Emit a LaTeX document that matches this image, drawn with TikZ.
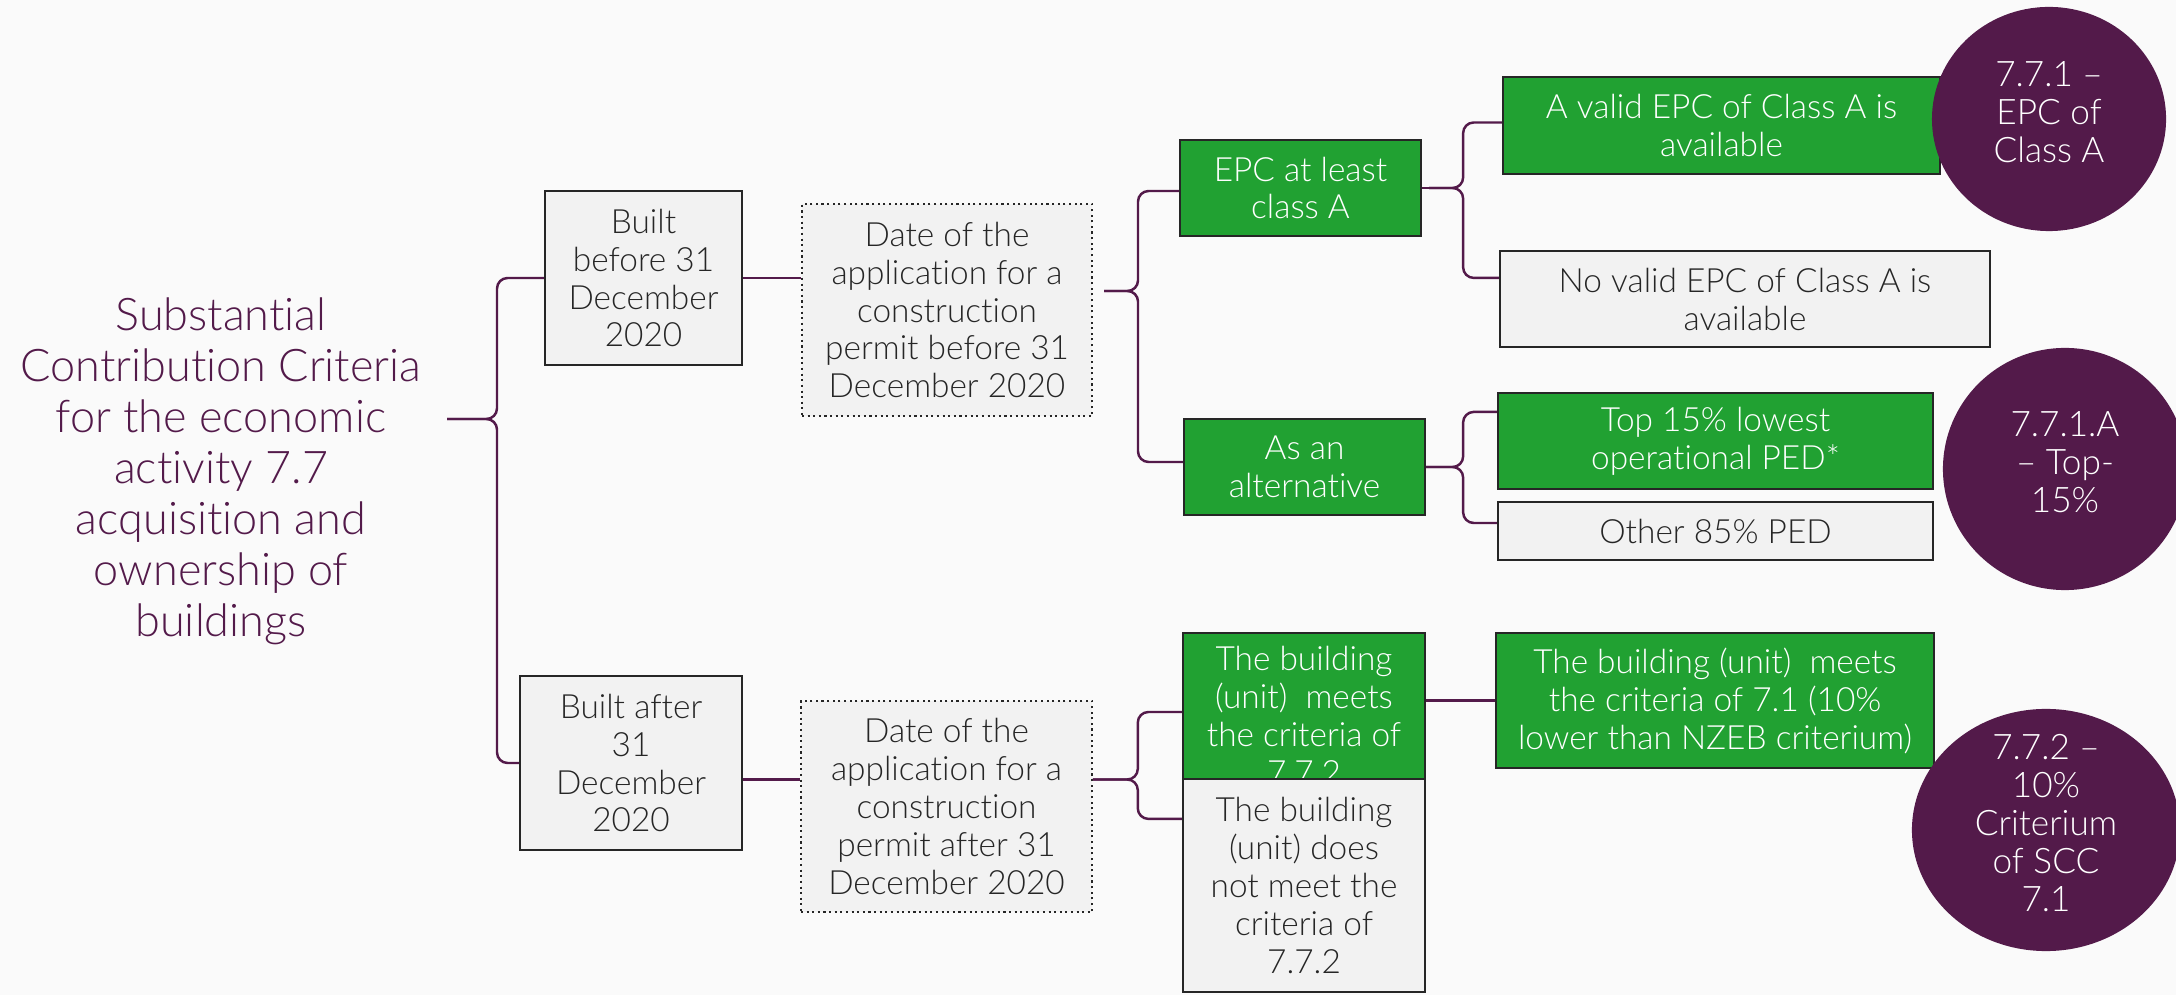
\documentclass[tikz,border=0pt]{standalone}
\usepackage{fontspec}
\setmainfont{Lato}
\newfontfamily\lightfont[Ligatures={TeX,NoCommon}]{Lato Light}
\usetikzlibrary{positioning,calc,shapes.geometric}

\definecolor{plum}{HTML}{531A4A}
\definecolor{okgreen}{HTML}{21A132}
\definecolor{boxfill}{HTML}{F2F2F2}
\definecolor{boxline}{HTML}{262626}
\definecolor{pagebg}{HTML}{FAFAFA}

\tikzset{
  greybox/.style={draw=boxline, fill=boxfill, text=boxline, line width=0.6pt,
    align=center, inner sep=0pt, font=\lightfont\fontsize{9.5}{10.8}\selectfont},
  greenbox/.style={greybox, fill=okgreen, text=white},
  datebox/.style={greybox, densely dotted, line width=0.4pt},
  badge/.style={ellipse, fill=plum, text=white, inner sep=0pt,
    font=\lightfont\fontsize{10}{10.8}\selectfont},
  heading/.style={text=plum, align=center, font=\lightfont\fontsize{12.8}{14.5}\selectfont},
  brace/.style={draw=plum, line width=0.7pt, rounded corners=3pt},
  link/.style={draw=plum, line width=0.6pt},
}
\newcommand{\stack}[2]{\raisebox{#1}[0pt][0pt]{\begin{tabular}{@{}c@{}}#2\end{tabular}}}

\begin{document}
\begin{tikzpicture}[x=0.01cm, y=-0.01cm]
\useasboundingbox (0,0) rectangle (2176,995);
\fill[pagebg] (0,0) rectangle (2176,995);

% activity 7.7
\node[heading] (scc) at (221,471) {Substantial\\Contribu\kern0pt tion Criteria\\for the economic\\activity 7.7\\acquisition and\\ownership of\\buildings};
\coordinate (fork0) at (447,419);

% built before 31 December 2020
\node[greybox, minimum width=1.97cm, minimum height=1.74cm] (built1) at (643.5,278) {Built\\before 31\\December\\2020};
\node[datebox, minimum width=2.90cm, minimum height=2.12cm] (permit1) at (947,310) {Date of the\\application for a\\construction\\permit before 31\\December 2020};
\coordinate (fork1) at (1104,291);
\node[greenbox, minimum width=2.41cm, minimum height=0.96cm] (epc) at (1300.5,188) {EPC at least\\class A};
\node[greenbox, minimum width=2.41cm, minimum height=0.96cm] (alt) at (1304.5,467) {As an\\alternative};
\node[greenbox, minimum width=4.37cm, minimum height=0.97cm] (valid) at (1721.5,125.5) {A valid EPC of Class A is\\available};
\node[greybox, minimum width=4.90cm, minimum height=0.96cm] (novalid) at (1745,299) {No valid EPC of Class A is\\available};
\node[greenbox, minimum width=4.35cm, minimum height=0.96cm] (top15) at (1715.5,441) {Top 15\% lowest\\operational PED*};
\node[greybox, minimum width=4.35cm, minimum height=0.58cm] (other) at (1715.5,531) {Other 85\% PED};

% built after 31 December 2020
\node[greybox, minimum width=2.22cm, minimum height=1.74cm] (built2) at (631,763) {Built after\\31\\December\\2020};
\node[datebox, minimum width=2.91cm, minimum height=2.11cm] (permit2) at (946.5,806.5) {Date of the\\application for a\\construction\\permit after 31\\December 2020};
\coordinate (fork2) at ($(permit2.east)+(0,-27)$);
\node[greenbox, minimum width=2.42cm, minimum height=1.46cm] (meets) at (1304,706) {\stack{-0.22cm}{The building\\(unit)\ \ meets\\the criteria of\\7.7.2}};
\node[greybox, minimum width=2.42cm, minimum height=2.13cm] (notmeet) at (1304,885.5) {The building\\(unit) does\\not meet the\\criteria of\\7.7.2};
\node[greenbox, minimum width=4.38cm, minimum height=1.35cm] (yes1) at (1715,700.5) {The building (unit)\ \ meets\\the criteria of 7.1 (10\%\\lower than NZEB criterium)};

% links
\draw[brace] (fork0) -- ++(50,0) |- (built1.west);
\draw[brace] (fork0) -- ++(50,0) |- (built2.west);
\draw[link] (built1.east) -- (built1.east -| permit1.west);
\draw[brace] (fork1) -- ++(34,0) |- ($(epc.west)+(0,3)$);
\draw[brace] (fork1) -- ++(34,0) |- ($(alt.west)+(0,-5)$);
\draw[link] (epc.east) -- ++(7,0) coordinate (fork3);
\draw[brace] (fork3) -- ++(34,0) |- ($(valid.west)+(0,-3)$);
\draw[brace] (fork3) -- ++(34,0) |- ($(novalid.north west)+(0,28)$);
\draw[brace] (alt.east) -- ++(37,0) |- ($(top15.north west)+(0,20)$);
\draw[brace] (alt.east) -- ++(37,0) |- ($(other.west)+(0,-8)$);
\draw[link] (built2.east |- fork2) -- (permit2.west |- fork2);
\draw[brace] (fork2) -- ++(45,0) |- ($(meets.west)+(0,6)$);
\draw[brace] (fork2) -- ++(45,0) |- ($(notmeet.north west)+(0,41)$);
\draw[link] (yes1.west -| meets.east) -- (yes1.west);

% badges
\node[badge, minimum width=2.34cm, minimum height=2.24cm] (b771) at (2049,119) {\stack{-0.07cm}{7.7.1 –\\EPC of\\Class A}};
\node[badge, minimum width=2.44cm, minimum height=2.42cm] (b771a) at (2065,469) {\stack{-0.07cm}{7.7.1.A\\– Top-\\15\%}};
\node[badge, minimum width=2.68cm, minimum height=2.42cm] (b772) at (2046,830) {\stack{-0.07cm}{7.7.2 –\\10\%\\Criterium\\of SCC\\7.1}};
\end{tikzpicture}
\end{document}
